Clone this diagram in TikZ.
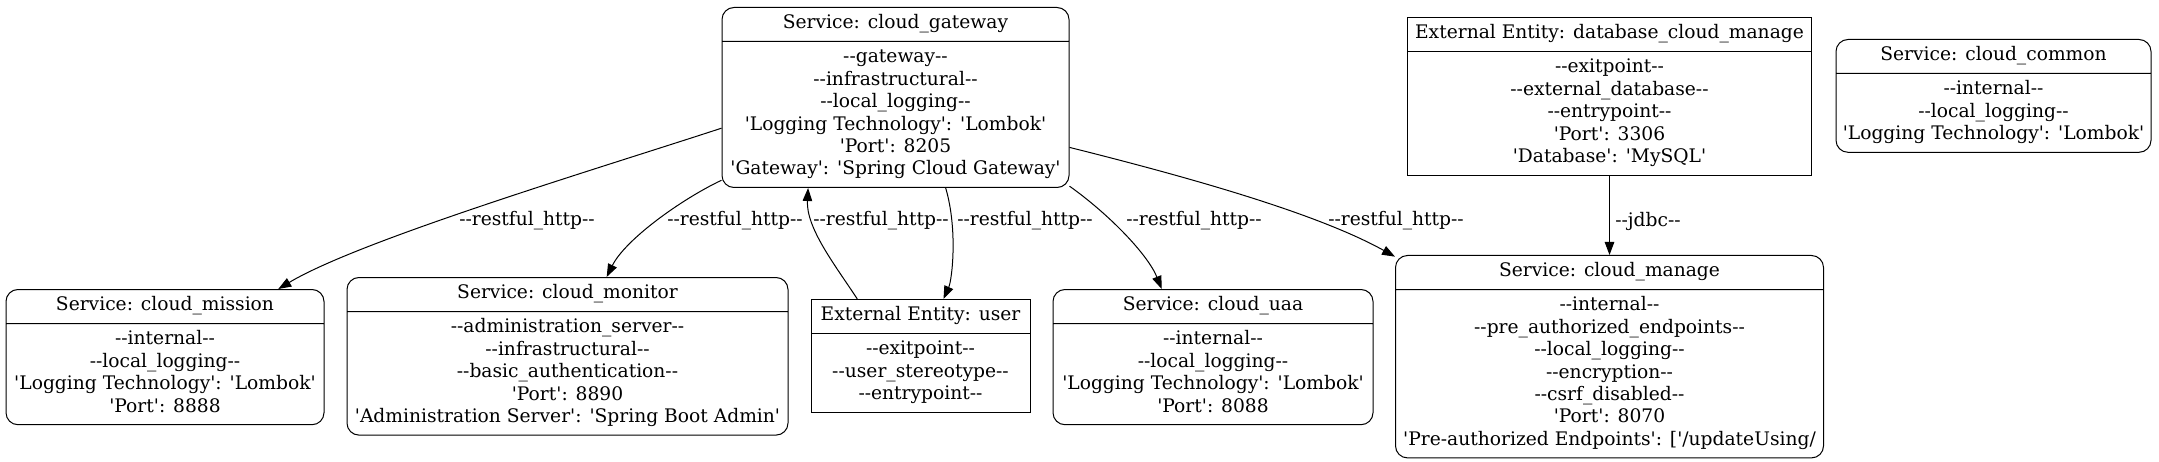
\documentclass[tikz,border=0pt]{standalone}
\usepackage{fontspec}
\usepackage{tikz}
\usetikzlibrary{arrows.meta,shapes.multipart}
\newfontfamily\gvfont{DejaVu Serif}

\begin{document}
\begin{tikzpicture}[
  x=1pt, y=1pt,
  font=\gvfont\fontsize{18.67}{22.4}\selectfont,
  svc/.style={rectangle split, rectangle split parts=2, draw, line width=1pt, rounded corners=12pt,
              align=center, inner xsep=4pt, inner ysep=5.3pt, anchor=north},
  ent/.style={svc, sharp corners},
  flow/.style={-{Triangle[length=13pt,width=9.5pt]}, line width=1pt},
  elabel/.style={inner sep=0pt},
]
\useasboundingbox (0,0) rectangle (2159,-462);

% ── Top row: gateway + database + common ─────────────────────────────────────
\node[svc, minimum width=347pt] (gateway) at (895.5,-7)
  {\strut Service: cloud\_gateway\nodepart{two}\strut --gateway--\\--infrastructural--\\--local\_logging--\\
   'Logging Technology': 'Lombok'\\'Port': 8205\\'Gateway': 'Spring Cloud Gateway'\strut};
\node[ent, minimum width=404pt] (dbmanage) at (1609.5,-17)
  {\strut External Entity: database\_cloud\_manage\nodepart{two}\strut --exitpoint--\\--external\_database--\\
   --entrypoint--\\'Port': 3306\\'Database': 'MySQL'\strut};
\node[svc, minimum width=315pt] (common) at (1993.5,-39)
  {\strut Service: cloud\_common\nodepart{two}\strut --internal--\\--local\_logging--\\
   'Logging Technology': 'Lombok'\strut};

% ── Bottom row ────────────────────────────────────────────────────────────────
\node[svc, minimum width=318pt] (mission) at (165,-289)
  {\strut Service: cloud\_mission\nodepart{two}\strut --internal--\\--local\_logging--\\
   'Logging Technology': 'Lombok'\\'Port': 8888\strut};
\node[svc, minimum width=441pt] (monitor) at (567.5,-277)
  {\strut Service: cloud\_monitor\nodepart{two}\strut --administration\_server--\\--infrastructural--\\
   --basic\_authentication--\\'Port': 8890\\'Administration Server': 'Spring Boot Admin'\strut};
\node[ent, minimum width=219pt] (user) at (920.5,-299)
  {\strut External Entity: user\nodepart{two}\strut --exitpoint--\\--user\_stereotype--\\--entrypoint--\strut};
\node[svc, minimum width=320pt] (uaa) at (1213,-289)
  {\strut Service: cloud\_uaa\nodepart{two}\strut --internal--\\--local\_logging--\\
   'Logging Technology': 'Lombok'\\'Port': 8088\strut};
\node[svc, minimum width=428pt, inner xsep=1pt] (manage) at (1609.5,-255)
  {\strut Service: cloud\_manage\nodepart{two}\strut --internal--\\--pre\_authorized\_endpoints--\\
   --local\_logging--\\--encryption--\\--csrf\_disabled--\\'Port': 8070\\
   'Pre-authorized Endpoints': ['/updateUsing/\strut};

% ── Flows ─────────────────────────────────────────────────────────────────────
\draw[flow] (gateway.190) .. controls (600,-168) and (360,-240) .. (mission);
\draw[flow] (gateway) .. controls (680,-200) and (625,-240) .. (monitor);
\draw[flow] (user.138) .. controls (835,-265) and (806,-228) .. (gateway.226);
\draw[flow] (gateway.299) .. controls (958,-230) and (952,-280) .. (user.68);
\draw[flow] (gateway.333) .. controls (1110,-215) and (1148,-255) .. (uaa.127);
\draw[flow] (gateway.344) .. controls (1200,-180) and (1320,-215) .. (manage.155);
\draw[flow] (dbmanage) -- (manage);

\node[elabel] (lmission) at (527,-221)  {--restful\_http--};
\node[elabel] (lmonitor) at (735,-221)  {--restful\_http--};
\node[elabel] (luserin)  at (881,-221)  {--restful\_http--};
\node[elabel] (luserout) at (1025,-221) {--restful\_http--};
\node[elabel] (luaa)     at (1194,-221) {--restful\_http--};
\node[elabel] (lmanage)  at (1396,-221) {--restful\_http--};
\node[elabel] (ljdbc)    at (1648,-221) {--jdbc--};

\end{tikzpicture}
\end{document}
